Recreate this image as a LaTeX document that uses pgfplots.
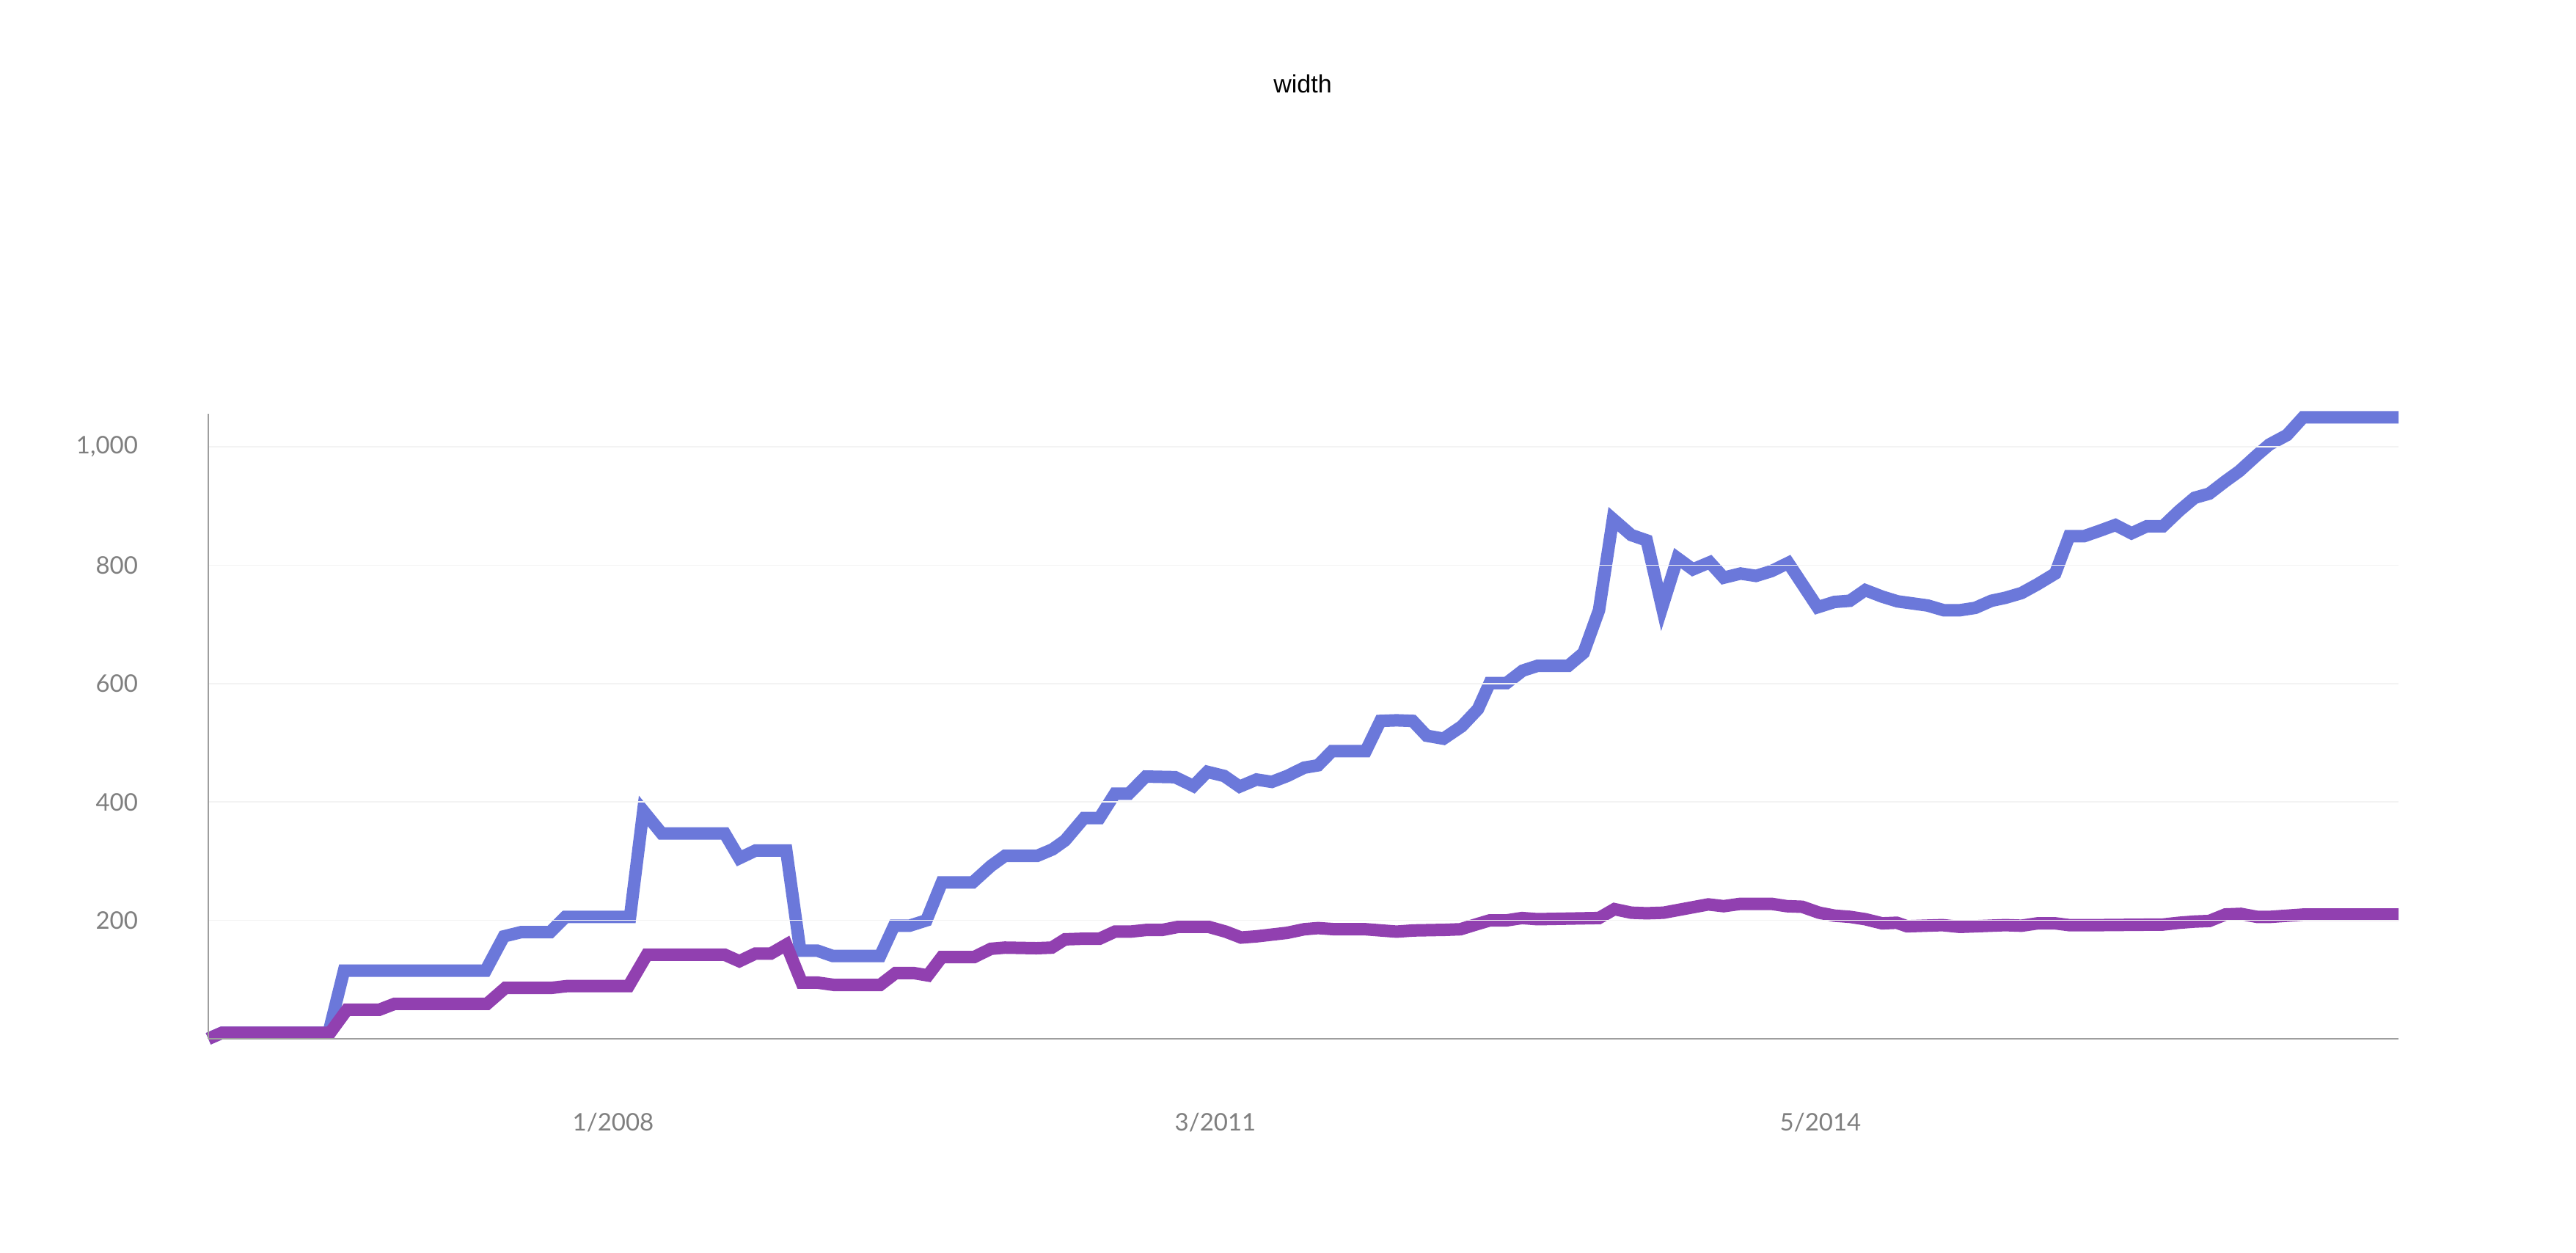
\documentclass[border=0pt]{standalone}
\usepackage{fontspec}
\setmainfont{Lato}
\newfontfamily\titlefont{Liberation Sans}
\usepackage{pgfplots}
\pgfplotsset{compat=1.18}
\definecolor{cblue}{HTML}{6B78DA}
\definecolor{cpurple}{HTML}{9140B0}
\definecolor{ticklab}{HTML}{7F7F7F}
\definecolor{axline}{HTML}{9E9E9E}
\definecolor{gridc}{HTML}{F3F3F3}
\begin{document}
\begin{tikzpicture}
\useasboundingbox (0,0) rectangle (702.4pt,341.6pt);
\begin{axis}[
  at={(56.8pt,58.4pt)}, anchor=south west,
  scale only axis, width=597.2pt, height=170.4pt,
  xmin=284, xmax=3270, ymin=0, ymax=1056,
  clip=false,
  axis x line*=bottom, axis y line*=left,
  axis line style={color=axline, line width=0.4pt, -},
  xtick={836,1657,2482},
  xticklabels={1/2008,3/2011,5/2014},
  ytick={200,400,600,800,1000},
  major tick length=0pt,
  ymajorgrids,
  major grid style={color=gridc, line width=0.35pt},
  axis on top,
  /pgf/number format/.cd, 1000 sep={,}, assume math mode=true,
  /pgfplots/.cd,
  tick label style={color=ticklab, font=\fontsize{6.6}{7}\selectfont},
  xticklabel style={anchor=center, inner sep=0pt, yshift=-22.8pt},
  yticklabel style={anchor=east, inner sep=0pt, xshift=-19pt},
]
\addplot[color=cblue, line width=3.4pt, line join=miter] coordinates {
(284,0) (302.5,10) (448,10) (469,115) (662,115) (687,173) (710,180) (750,180)
(771,206) (859,206) (877,385) (902,347) (988,347) (1008,305) (1030,318) (1072,318)
(1091,149) (1114,149) (1135,140) (1200,140) (1219,191) (1240,191) (1263,200) (1284,264)
(1326,264) (1351,292) (1370,309) (1414,309) (1435,320) (1452,335) (1478,373) (1499,373)
(1520,414) (1539,414) (1562,443) (1602,442) (1627,427) (1646,451) (1669,444) (1690,426)
(1713,438) (1734,434) (1755,444) (1778,458) (1797,462) (1816,486) (1862,486) (1882,537)
(1904,538) (1926,537) (1945,512) (1968,507) (1993,528) (2015,557) (2031,601) (2054,601)
(2076,622) (2096,630) (2138,630) (2159,652) (2180,724) (2199,878) (2224,851) (2245,842)
(2266,729) (2287,812) (2308,793) (2331,805) (2350,779) (2373,786) (2394,782) (2415,790)
(2438,804) (2478,729) (2501,738) (2522,740) (2543,758) (2566,747) (2587,739) (2628,732)
(2650,724) (2672,724) (2693,728) (2715,740) (2734,745) (2756,753) (2778,768) (2802,786)
(2821,849) (2841,849) (2862,858) (2884,868) (2906,854) (2927,866) (2949,866) (2971,892)
(2992,914) (3012,921) (3034,942) (3053,959) (3077,986) (3094,1004) (3118,1020) (3140,1050)
(3270,1050)
};
\addplot[color=cpurple, line width=3.4pt, line join=miter] coordinates {
(284,0) (302.5,10) (450,10) (473,49) (517,49) (538,59) (664,59) (689,86)
(752,86) (773,89) (857,89) (882,142) (988,142) (1008,131) (1030,144) (1051,144)
(1072,159) (1093,95) (1114,95) (1137,91) (1200,91) (1221,111) (1246,111) (1265,107)
(1284,138) (1328,138) (1351,152) (1370,154) (1413,153) (1434,154) (1452,168) (1476,169)
(1499,169) (1520,181) (1541,181) (1564,184) (1585,184) (1606,189) (1648,189) (1671,181)
(1692,171) (1713,173) (1755,179) (1778,185) (1797,187) (1820,185) (1862,185) (1904,181)
(1927,183) (1970,184) (1991,185) (2012,193) (2031,200) (2054,200) (2075,204) (2096,202)
(2180,204) (2201,219) (2224,213) (2245,212) (2268,213) (2329,227) (2350,224) (2373,228)
(2415,228) (2436,224) (2457,223) (2480,213) (2501,208) (2522,206) (2543,202) (2566,195)
(2586,196) (2600,190) (2648,192) (2672,189) (2734,192) (2756,191) (2778,195) (2802,195)
(2821,192) (2862,192) (2949,193) (2971,196) (2992,198) (3012,199) (3034,210) (3055,211)
(3077,206) (3096,206) (3142,210) (3270,210)
};
\end{axis}
\node[font=\titlefont\fontsize{6.8}{8}\selectfont, text=black, inner sep=0pt] at (355.2pt,318.8pt) {width};
\end{tikzpicture}
\end{document}
